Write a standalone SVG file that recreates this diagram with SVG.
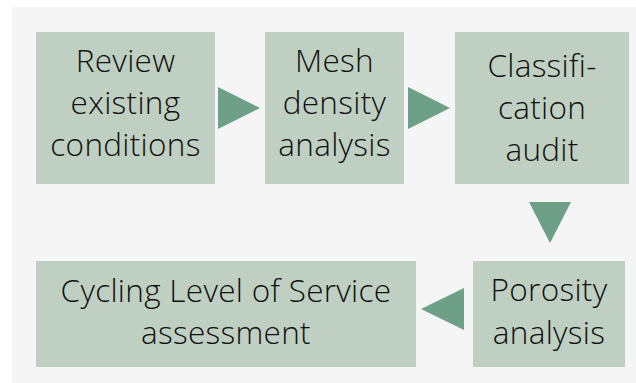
<svg xmlns="http://www.w3.org/2000/svg" width="636" height="383" viewBox="0 0 636 383">
<style>
.box{fill:#bfd0c3}
.arr{fill:#6e9f87}
text{font-family:"Open Sans",Lato,sans-serif;font-size:31.5px;font-weight:300;letter-spacing:0.3px;fill:#111;text-anchor:middle}
</style>
<rect x="0" y="0" width="636" height="383" fill="#ffffff"/>
<rect x="12" y="7" width="624" height="376" fill="#f5f5f5"/>
<g id="connectors">
<polygon class="arr" points="218,87 260,108 218,129"/>
<polygon class="arr" points="408,87 450,108 408,129"/>
<polygon class="arr" points="529,202 571,202 550,243"/>
<polygon class="arr" points="464,288 464,330 421,309"/>
</g>
<g id="n1"><rect class="box" x="36" y="32" width="179" height="152"/>
<text x="125.5" y="72">Review</text><text x="125.5" y="114">existing</text><text x="125.5" y="156">conditions</text></g>
<g id="n2"><rect class="box" x="265" y="32" width="139" height="152"/>
<text x="334.5" y="72">Mesh</text><text x="334.5" y="114">density</text><text x="334.5" y="156">analysis</text></g>
<g id="n3"><rect class="box" x="455" y="32" width="174" height="152"/>
<text x="542" y="77">Classifi-</text><text x="542" y="119">cation</text><text x="542" y="161">audit</text></g>
<g id="n4"><rect class="box" x="473" y="261" width="152" height="106"/>
<text x="549" y="301">Porosity</text><text x="549" y="344">analysis</text></g>
<g id="n5"><rect class="box" x="36" y="261" width="380" height="106"/>
<text x="226" y="301.5">Cycling Level of Service</text><text x="226" y="344">assessment</text></g>
</svg>
